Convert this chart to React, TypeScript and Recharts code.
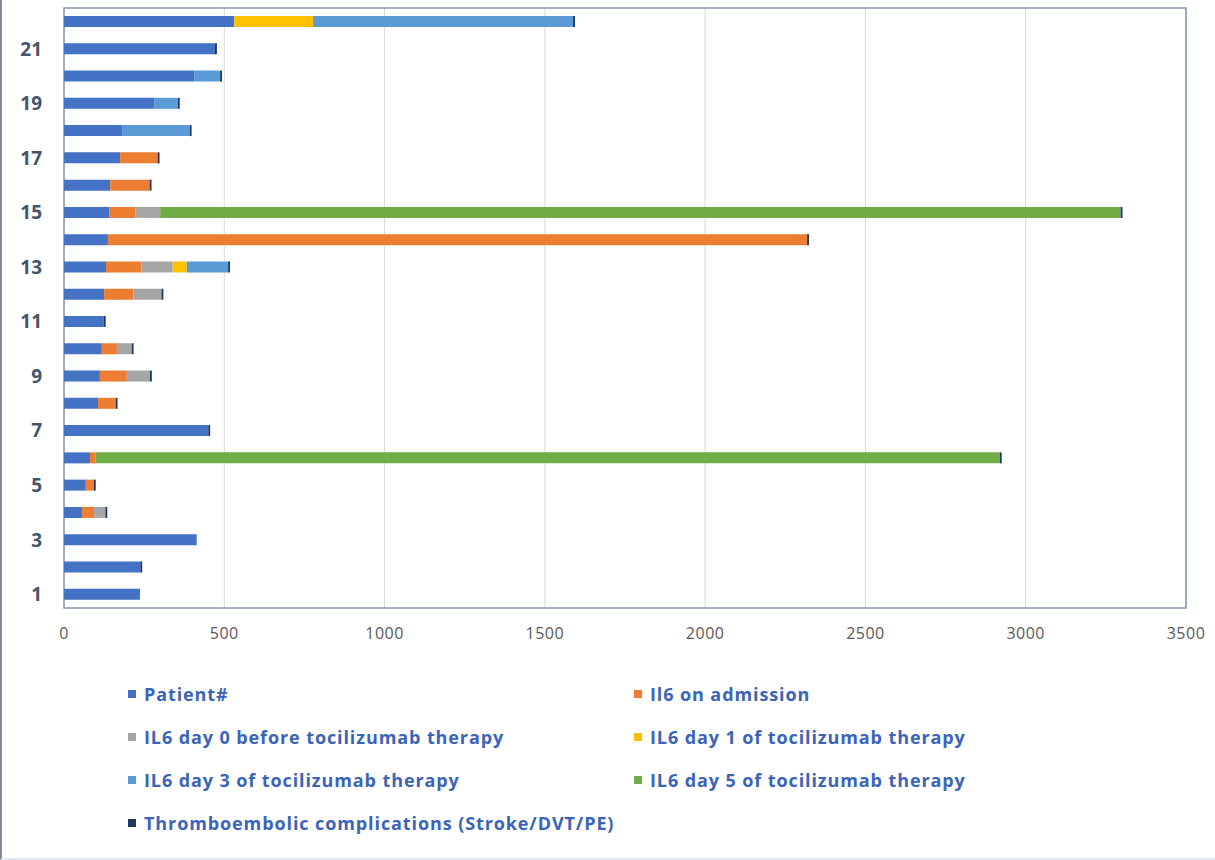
import React from 'react';
import { BarChart, Bar, XAxis, YAxis, CartesianGrid, ReferenceArea } from 'recharts';

// patient rows, bottom (1) to top (22)
const categories = ['1', '2', '3', '4', '5', '6', '7', '8', '9', '10', '11', '12', '13', '14', '15', '16', '17', '18', '19', '20', '21', '22'];

const patientNo = [237, 238, 414, 56, 68, 81, 450, 106, 112, 118, 124, 125, 131, 137, 142, 144, 175, 181, 281, 406, 471, 531];
const il6Admission = [0, 0, 0, 38, 25, 18, 0, 55, 84, 47, 0, 92, 111, 2181, 80, 123, 117, 0, 0, 0, 0, 0];
const il6Day0 = [0, 0, 0, 35, 0, 0, 0, 0, 72, 46, 0, 87, 97, 0, 78, 0, 0, 0, 0, 0, 0, 0];
const il6Day1 = [0, 0, 0, 0, 0, 0, 0, 0, 0, 0, 0, 0, 44, 0, 0, 0, 0, 0, 0, 0, 0, 246];
const il6Day3 = [0, 0, 0, 0, 0, 0, 0, 0, 0, 0, 0, 0, 129, 0, 0, 0, 0, 211, 74, 81, 0, 811];
const il6Day5 = [0, 0, 0, 0, 0, 2820, 0, 0, 0, 0, 0, 0, 0, 0, 2996, 0, 0, 0, 0, 0, 0, 0];
const thrombo = [0, 6, 0, 6, 6, 6, 6, 6, 6, 6, 6, 6, 6, 6, 6, 6, 6, 6, 6, 6, 6, 6];

const xTicks = [0, 500, 1000, 1500, 2000, 2500, 3000, 3500];

const series = [
  { key: 'patient', name: 'Patient#', color: '#4472C4', values: patientNo },
  { key: 'admission', name: 'Il6 on admission', color: '#ED7D31', values: il6Admission },
  { key: 'day0', name: 'IL6 day 0 before tocilizumab therapy', color: '#A5A5A5', values: il6Day0 },
  { key: 'day1', name: 'IL6 day 1 of tocilizumab therapy', color: '#FFC000', values: il6Day1 },
  { key: 'day3', name: 'IL6 day 3 of tocilizumab therapy', color: '#5B9BD5', values: il6Day3 },
  { key: 'day5', name: 'IL6 day 5 of tocilizumab therapy', color: '#70AD47', values: il6Day5 },
  { key: 'thrombo', name: 'Thromboembolic complications (Stroke/DVT/PE)', color: '#203864', values: thrombo },
];

const data = categories.map((name, i) => {
  const row: Record<string, string | number> = { name };
  series.forEach((s) => { row[s.key] = s.values[i]; });
  return row;
});

const FONT = '"Open Sans", Lato, sans-serif';

export default function App() {
  return (
    <div style={{
      position: 'absolute', left: 0, top: 0, width: 1215, height: 860, background: '#fff',
      boxSizing: 'border-box', borderLeft: '2px solid #7d8a99', borderBottom: '2px solid #dce8f2',
      fontFamily: FONT,
    }}>
      <div style={{ position: 'absolute', left: -2, top: 0 }}>
        <BarChart width={1215} height={652} data={data} layout="vertical"
          margin={{ top: 8, right: 29, left: 0, bottom: 0 }} barSize={11}>
          <CartesianGrid horizontal={false} stroke="#D9D9D9" strokeWidth={1} />
          <XAxis type="number" domain={[0, 3500]} ticks={xTicks} axisLine={false} tickLine={false}
            height={44} tickSize={6} tickMargin={14}
            tick={{ fill: '#595959', fontSize: 16, letterSpacing: 0.5, fontFamily: FONT }} />
          <YAxis type="category" dataKey="name" reversed width={64} interval={1}
            axisLine={false} tickLine={false} tickSize={6} tickMargin={16}
            tick={{ fill: '#44546A', fontSize: 19, fontWeight: 700, fontFamily: FONT }} />
          {series.map((s) => (
            <Bar key={s.key} dataKey={s.key} name={s.name} stackId="a" fill={s.color}
              isAnimationActive={false} />
          ))}
          <ReferenceArea x1={0} x2={3500} fill="none" stroke="#8497B0" strokeWidth={1.5} ifOverflow="visible" />
        </BarChart>
      </div>

      {/* legend, two columns like the Excel original */}
      <div style={{
        position: 'absolute', left: 126, top: 682, width: 1000,
        display: 'grid', gridTemplateColumns: '506px 480px', rowGap: 20,
      }}>
        {series.map((s) => (
          <div key={s.key} style={{ display: 'flex', alignItems: 'center', height: 23 }}>
            <span style={{ width: 8, height: 8, background: s.color, marginRight: 8, flex: 'none' }} />
            <span style={{ color: '#3B64B8', fontSize: 18, fontWeight: 700, letterSpacing: 0.9, whiteSpace: 'nowrap' }}>{s.name}</span>
          </div>
        ))}
      </div>
    </div>
  );
}
